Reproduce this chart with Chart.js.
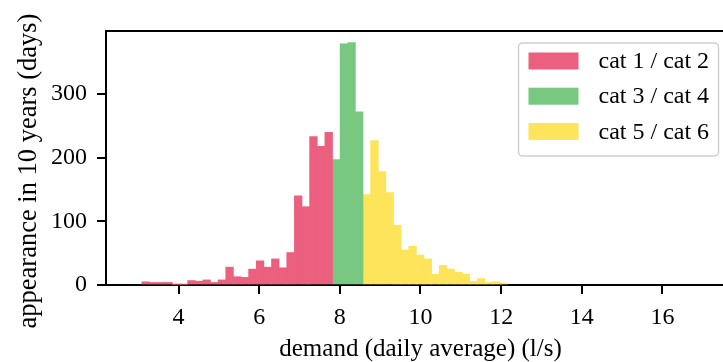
<!DOCTYPE html>
<html>
<head>
<meta charset="utf-8">
<script src="https://cdn.jsdelivr.net/npm/chart.js@4"></script>
<style>
  html, body { margin: 0; padding: 0; background: #fff; overflow: hidden; }
  #wrap { width: 740px; height: 362px; }
</style>
</head>
<body>
<div id="wrap"><canvas id="histChart" width="740" height="362"></canvas></div>
<script>
// histogram bins (l/s)
const binStart = 3.09;
const binWidth = 0.1891;

const categories = ['cat 1 / cat 2', 'cat 3 / cat 4', 'cat 5 / cat 6'];

// counts per bin
const cat12Counts = [5, 4, 4, 4, 1, 1, 7, 6, 8, 4, 8, 28, 13, 12, 25, 38, 28, 41, 27, 51, 140, 123, 233, 218, 240];
const cat34Counts = [197, 379, 381, 272];
const cat56Counts = [142, 227, 178, 145, 94, 55, 61, 47, 41, 17, 31, 25, 20, 17, 6, 10, 4, 5, 3];

const xTicks = [4, 6, 8, 10, 12, 14, 16];
const yTicks = [0, 100, 200, 300];

const xTitle = 'demand (daily average) (l/s)';
const yTitle = 'appearance in 10 years (days)';

const colors = ['#eb5f7f', '#78c882', '#fde45a'];

function toPoints(counts, firstBin) {
  return counts.map((c, i) => ({ x: binStart + binWidth * (firstBin + i + 0.5), y: c }));
}

const serif = '"Liberation Serif", "DejaVu Serif", serif';

// top spine, y title and framed legend inside the plot
const framePlugin = {
  id: 'frame',
  afterDraw(chart) {
    const c = chart.ctx;
    const a = chart.chartArea;
    c.save();
    c.strokeStyle = '#000';
    c.lineWidth = 2;
    c.beginPath();
    c.moveTo(a.left - 1, a.top);
    c.lineTo(a.right, a.top);
    c.stroke();

    // y axis title (sits a bit below the plot centre in the original)
    c.save();
    c.translate(29, 171);
    c.rotate(-Math.PI / 2);
    c.font = '26.5px ' + serif;
    c.fillStyle = '#000';
    c.textAlign = 'center';
    c.textBaseline = 'middle';
    c.fillText(yTitle, 0, 0);
    c.restore();

    // legend box
    const x0 = 518.5, y0 = 43, w = 200, h = 113;
    c.fillStyle = 'rgba(255,255,255,0.8)';
    c.strokeStyle = '#cfcfcf';
    c.lineWidth = 1.5;
    c.beginPath();
    c.roundRect(x0, y0, w, h, 4);
    c.fill();
    c.stroke();

    c.font = '24px ' + serif;
    c.textBaseline = 'middle';
    c.textAlign = 'left';
    chart.data.datasets.forEach((ds, i) => {
      const cy = 61 + i * 35.2;
      c.fillStyle = ds.backgroundColor;
      c.fillRect(528.5, cy - 8.5, 50, 17);
      c.fillStyle = '#000';
      c.fillText(ds.label, 598.5, cy + 1);
    });
    c.restore();
  }
};

const ctx = document.getElementById('histChart').getContext('2d');
const histChart = new Chart(ctx, {
  type: 'bar',
  data: {
    datasets: [
      { label: categories[0], data: toPoints(cat12Counts, 0), backgroundColor: colors[0] },
      { label: categories[1], data: toPoints(cat34Counts, cat12Counts.length), backgroundColor: colors[1] },
      { label: categories[2], data: toPoints(cat56Counts, cat12Counts.length + cat34Counts.length), backgroundColor: colors[2] }
    ]
  },
  options: {
    responsive: false,
    animation: false,
    devicePixelRatio: 1,
    datasets: {
      bar: { grouped: false, barPercentage: 1, categoryPercentage: 1, borderWidth: 0 }
    },
    layout: { padding: { left: 10, top: 31, right: 5, bottom: 0 } },
    plugins: {
      legend: { display: false },
      tooltip: { enabled: false }
    },
    scales: {
      x: {
        type: 'linear',
        min: 2.2,
        max: 17.8,
        offset: false,
        grid: { display: true, offset: false, drawOnChartArea: false, tickLength: 9, color: '#000', lineWidth: 2 },
        border: { display: true, color: '#000', width: 2 },
        ticks: { color: '#000', font: { family: serif, size: 24 }, padding: 9, maxRotation: 0 },
        title: {
          display: true,
          text: xTitle,
          color: '#000',
          font: { family: serif, size: 25, lineHeight: 1.0 },
          padding: 0
        },
        afterBuildTicks: (scale) => { scale.ticks = xTicks.map(v => ({ value: v })); },
        afterFit: (scale) => { scale.height = 77; }
      },
      y: {
        min: 0,
        max: 399,
        grid: { display: true, drawOnChartArea: false, tickLength: 9, color: '#000', lineWidth: 2 },
        border: { display: true, color: '#000', width: 2 },
        ticks: { color: '#000', font: { family: serif, size: 24 }, padding: 10 },
        title: { display: false },
        afterBuildTicks: (scale) => { scale.ticks = yTicks.map(v => ({ value: v })); },
        afterFit: (scale) => { scale.width = 96; }
      }
    }
  },
  plugins: [framePlugin]
});
</script>
</body>
</html>
